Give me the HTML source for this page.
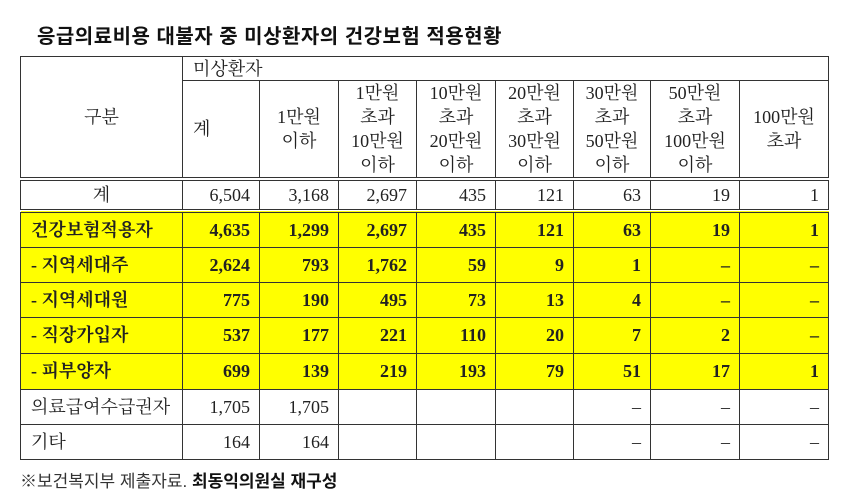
<!DOCTYPE html>
<html><head><meta charset="utf-8"><style>
body{margin:0;width:850px;height:503px;background:#fff;position:relative;overflow:hidden;font-family:"Liberation Serif","Noto Serif CJK SC",serif;color:#222}
.title{position:absolute;left:37px;top:20px;font-family:"Liberation Sans","Noto Sans CJK KR",sans-serif;font-weight:bold;font-size:20px;letter-spacing:0.5px;color:#111}
table{position:absolute;left:20px;top:56px;border-collapse:collapse;table-layout:fixed;font-size:18px}
td{border:1.5px solid #333;padding:0 9px 0 0;text-align:right;white-space:nowrap;line-height:20px}
.h td{text-align:center;padding:0;line-height:24px}
.dbl td{border-bottom:4px double #333}
.y td{background:#ffff00;font-weight:bold}
td.l{text-align:left;padding-left:10px}
.foot{position:absolute;left:20px;top:467px;font-size:17px;font-family:"Liberation Sans","Noto Sans CJK KR",sans-serif;color:#333}
</style></head><body>
<div class="title">응급의료비용 대불자 중 미상환자의 건강보험 적용현황</div>
<table>
<colgroup><col style="width:162px"><col style="width:77px"><col style="width:79px"><col style="width:78px"><col style="width:79px"><col style="width:78px"><col style="width:77px"><col style="width:89px"><col style="width:89px"></colgroup>
<tr class="h" style="height:24px"><td rowspan="2" style="border-bottom:4px double #333">구분</td><td colspan="8" style="text-align:left;padding-left:10px;line-height:20px">미상환자</td></tr>
<tr class="h dbl" style="height:97px"><td style="text-align:left;padding-left:10px">계</td><td>1만원<br>이하</td><td>1만원<br>초과<br>10만원<br>이하</td><td>10만원<br>초과<br>20만원<br>이하</td><td>20만원<br>초과<br>30만원<br>이하</td><td>30만원<br>초과<br>50만원<br>이하</td><td>50만원<br>초과<br>100만원<br>이하</td><td>100만원<br>초과</td></tr>
<tr class="dbl" style="height:32px"><td style="text-align:center;padding:0">계</td><td>6,504</td><td>3,168</td><td>2,697</td><td>435</td><td>121</td><td>63</td><td>19</td><td>1</td></tr>
<tr class="y" style="height:36px"><td class="l">건강보험적용자</td><td>4,635</td><td>1,299</td><td>2,697</td><td>435</td><td>121</td><td>63</td><td>19</td><td>1</td></tr>
<tr class="y" style="height:35px"><td class="l">- 지역세대주</td><td>2,624</td><td>793</td><td>1,762</td><td>59</td><td>9</td><td>1</td><td>–</td><td>–</td></tr>
<tr class="y" style="height:35px"><td class="l">- 지역세대원</td><td>775</td><td>190</td><td>495</td><td>73</td><td>13</td><td>4</td><td>–</td><td>–</td></tr>
<tr class="y" style="height:36px"><td class="l">- 직장가입자</td><td>537</td><td>177</td><td>221</td><td>110</td><td>20</td><td>7</td><td>2</td><td>–</td></tr>
<tr class="y" style="height:36px"><td class="l">- 피부양자</td><td>699</td><td>139</td><td>219</td><td>193</td><td>79</td><td>51</td><td>17</td><td>1</td></tr>
<tr style="height:35px"><td class="l">의료급여수급권자</td><td>1,705</td><td>1,705</td><td></td><td></td><td></td><td>–</td><td>–</td><td>–</td></tr>
<tr style="height:35px"><td class="l">기타</td><td>164</td><td>164</td><td></td><td></td><td></td><td>–</td><td>–</td><td>–</td></tr>
</table>
<div class="foot">※보건복지부 제출자료. <b style="color:#111">최동익의원실 재구성</b></div>
</body></html>
